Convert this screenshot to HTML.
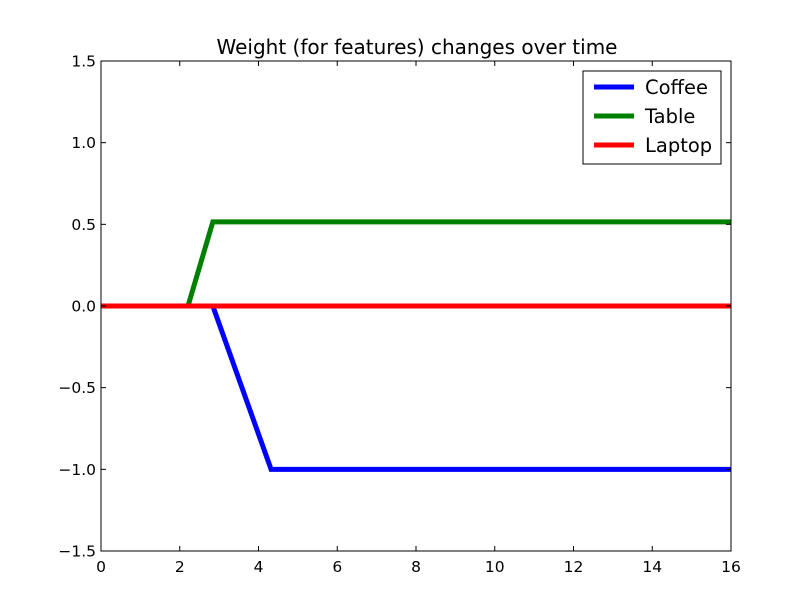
<!DOCTYPE html>
<html><head><meta charset="utf-8"><style>
body{margin:0;background:#fff;}
svg{display:block;font-family:"DejaVu Sans","Liberation Sans",sans-serif;}
</style></head><body>
<svg id="chart" width="812" height="612">
<rect width="812" height="612" fill="#fff"/>
<text x="417" y="54" text-anchor="middle" font-size="20">Weight (for features) changes over time</text>
<g id="lines"></g>
<g id="axes"></g>
<rect x="101" y="61" width="630" height="490" fill="none" stroke="#000" stroke-width="1"/>
<g>
<rect x="583" y="71" width="138" height="93" fill="#fff" stroke="#000"/>
<g><line x1="594" y1="87" x2="634" y2="87" stroke="#0000ff" stroke-width="5"/><text x="645" y="94" font-size="19.5">Coffee</text></g>
<g><line x1="594" y1="116" x2="634" y2="116" stroke="#008000" stroke-width="5"/><text x="645" y="123" font-size="19.5">Table</text></g>
<g><line x1="594" y1="145" x2="634" y2="145" stroke="#ff0000" stroke-width="5"/><text x="645" y="152" font-size="19.5">Laptop</text></g>
</g>
</svg>
<script>
const coffeeX=[0,2.84,4.32,16];
const coffeeY=[0,0,-1,-1];
const tableX=[0,2.21,2.84,16];
const tableY=[0,0,0.515,0.515];
const laptopX=[0,16];
const laptopY=[0,0];
const xTicks=[0,2,4,6,8,10,12,14,16];
const yTicks=[-1.5,-1.0,-0.5,0.0,0.5,1.0,1.5];
const X0=101,X1=731,Y0=551,Y1=61;
const sx=v=>X0+(v-0)/(16-0)*(X1-X0);
const sy=v=>Y0-(v+1.5)/3*(Y0-Y1);
const NS="http://www.w3.org/2000/svg";
const lines=document.getElementById('lines');
function line(xs,ys,color,name){
  const p=document.createElementNS(NS,'polyline');
  p.setAttribute('points',xs.map((x,i)=>sx(x)+','+sy(ys[i])).join(' '));
  p.setAttribute('fill','none');p.setAttribute('stroke',color);p.setAttribute('stroke-width','5');
  
  
  lines.appendChild(p);
}
line(coffeeX,coffeeY,'#0000ff','coffee-line');
line(tableX,tableY,'#008000','table-line');
line(laptopX,laptopY,'#ff0000','laptop-line');
const ax=document.getElementById('axes');
function add(tag,attrs,text){const e=document.createElementNS(NS,tag);for(const k in attrs)e.setAttribute(k,attrs[k]);if(text!==undefined)e.textContent=text;ax.appendChild(e);return e;}
xTicks.forEach(t=>{
  const x=sx(t);
  add('line',{x1:x,y1:Y0,x2:x,y2:Y0-5,stroke:'#000'});
  add('line',{x1:x,y1:Y1,x2:x,y2:Y1+5,stroke:'#000'});
  const e=add('text',{x:x,y:Y0+21,'text-anchor':'middle','font-size':'15.5'},String(t));
  
  
});
yTicks.forEach(t=>{
  const y=sy(t);
  add('line',{x1:X0,y1:y,x2:X0+5,y2:y,stroke:'#000'});
  add('line',{x1:X1,y1:y,x2:X1-5,y2:y,stroke:'#000'});
  const e=add('text',{x:X0-5,y:y+5.5,'text-anchor':'end','font-size':'15.5'},(t<0?'\u2212':'')+Math.abs(t).toFixed(1));
  
  
});
</script>
</body></html>
